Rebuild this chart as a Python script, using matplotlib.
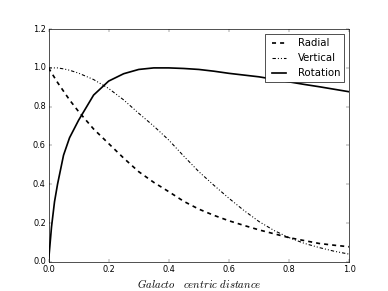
import matplotlib
matplotlib.use('Agg')
from matplotlib import pyplot as plt

plt.style.use('classic')

r = [0.0, 0.01, 0.02, 0.03, 0.05, 0.07, 0.1, 0.15, 0.2, 0.25, 0.3, 0.35, 0.4, 0.45,
     0.5, 0.55, 0.6, 0.65, 0.7, 0.75, 0.8, 0.85, 0.9, 0.95, 1.0]
radial = [1.0, 0.975, 0.95, 0.925, 0.88, 0.835, 0.775, 0.685, 0.61, 0.535, 0.465,
          0.41, 0.362, 0.312, 0.272, 0.24, 0.212, 0.188, 0.165, 0.145, 0.125, 0.11,
          0.095, 0.086, 0.078]
vertical = [1.0, 1.0, 1.0, 1.0, 0.995, 0.988, 0.973, 0.94, 0.894, 0.835, 0.766,
            0.7, 0.628, 0.545, 0.465, 0.395, 0.328, 0.265, 0.208, 0.162, 0.125,
            0.096, 0.074, 0.055, 0.04]
rotation = [0.0, 0.18, 0.31, 0.4, 0.55, 0.64, 0.73, 0.86, 0.932, 0.97, 0.992, 1.0,
            1.0, 0.997, 0.992, 0.983, 0.972, 0.963, 0.954, 0.941, 0.928, 0.915,
            0.903, 0.89, 0.877]

fig = plt.figure(figsize=(8, 6), dpi=48.5)
ax = fig.add_subplot(111)

ax.plot(r, radial, color='k', linestyle='--', linewidth=2.5, label='Radial')
ax.plot(r, vertical, color='k', linestyle=(0, (5, 3, 1.5, 3, 1.5, 3)), linewidth=1.6,
        label='Vertical')
ax.plot(r, rotation, color='k', linestyle='-', linewidth=2.5, label='Rotation')

ax.set_xlim(0, 1)
ax.set_ylim(0, 1.2)
ax.set_xlabel(r'$Galacto\quad centric\ distance$', fontsize=16)
ax.legend(loc='upper right', fontsize=15, handlelength=2.0)

plt.savefig('out.png', dpi=48.5)
